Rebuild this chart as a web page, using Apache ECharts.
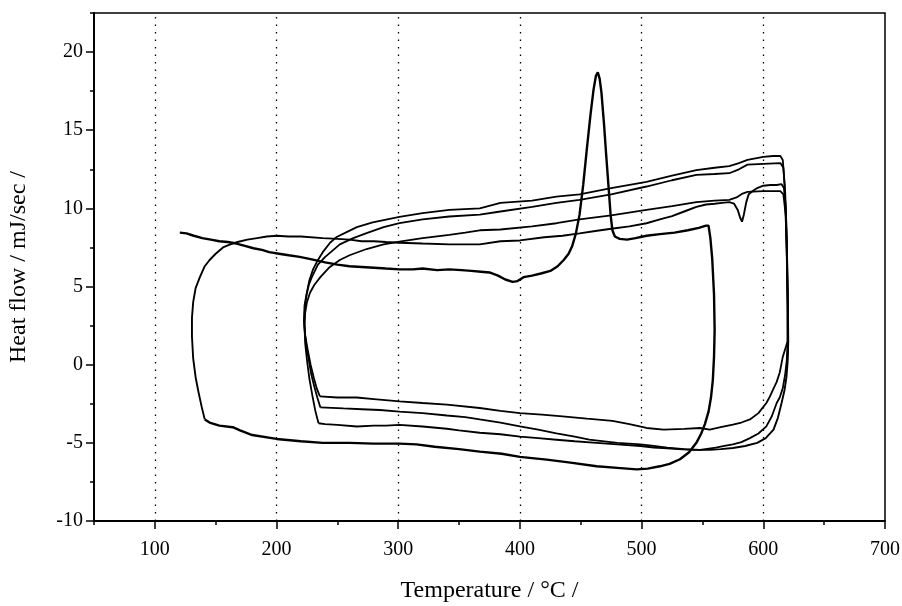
<!DOCTYPE html>
<html><head><meta charset="utf-8">
<script src="https://cdn.jsdelivr.net/npm/echarts@6/dist/echarts.min.js"></script>
<style>html,body{margin:0;padding:0;background:#fff}#c{width:902px;height:606px}</style>
</head><body><div id="c"></div>
<script>
const xMajorTicks = [100, 200, 300, 400, 500, 600, 700];
const xMinorTicks = [50, 150, 250, 350, 450, 550, 650];
const xGridLines = [100, 200, 300, 400, 500, 600];
const yMajorTicks = [-10, -5, 0, 5, 10, 15, 20];
const yMinorTicks = [-7.5, -2.5, 2.5, 7.5, 12.5, 17.5, 22.5];

// [temperature °C, heat flow mJ/s]
const firstHeating = [
[120.5,8.45],[126,8.4],[132,8.25],[139,8.1],[146,8.0],[153,7.9],[160,7.85],[167,7.75],[174,7.6],[181,7.45],[188,7.35],[194,7.2],[202,7.1],[210,7.0],[219,6.9],[228,6.75],[240,6.55],[250,6.4],[260,6.3],[270,6.25],[280,6.2],[290,6.15],[301,6.1],[312,6.1],[320,6.15],[332,6.05],[342,6.1],[352,6.05],[360,6.0],[368,5.95],[375,5.9],[382,5.7],[388,5.45],[394,5.3],[398,5.35],[403,5.6],[410,5.7],[418,5.85],[425,6.0],[431,6.3],[436,6.7],[440,7.1],[443,7.6],[446,8.4],[449,9.6],[452,11.5],[455,13.8],[458,16.0],[460.5,17.6],[462.5,18.5],[464,18.7],[465.5,18.3],[467,17.4],[469,15.5],[471,13.3],[473,11.2],[474.5,9.6],[476,8.6],[478,8.2],[482,8.05],[488,8.0],[495,8.1],[504,8.25],[515,8.35],[527,8.45],[538,8.6],[547,8.75],[553,8.9]
];
const firstCooling = [
[555,8.9],[556.5,8.1],[558,6.8],[559.5,4.5],[560,2.2],[559.5,0.5],[558.5,-1.0],[557,-2.1],[555,-3.0],[552,-3.8],[549,-4.4],[545,-5.0],[539,-5.6],[531.5,-6.05],[523,-6.35],[515,-6.5],[505,-6.65],[496,-6.7],[480,-6.6],[463,-6.5],[440,-6.25],[422,-6.07],[400,-5.9],[385,-5.7],[367,-5.56],[350,-5.4],[330,-5.25],[315,-5.1],[301,-5.05],[280,-5.05],[260,-5.0],[238,-5.0],[220,-4.9],[200,-4.75],[180,-4.5],[170,-4.2],[164,-4.0],[153,-3.9],[145,-3.7],[141,-3.5]
];
const secondHeating = [
[141,-3.5],[138.5,-2.7],[136,-1.8],[133.5,-0.8],[131.5,0.4],[130.5,1.8],[130.5,3.0],[131.5,4.0],[133.5,4.9],[137,5.6],[141,6.3],[145,6.7],[150,7.1],[156,7.5],[162,7.7],[168,7.85],[176,8.0],[184,8.1],[192,8.2],[200,8.25],[210,8.2],[220,8.2],[238,8.1],[250,8.05],[260,8.0],[270,7.9],[280,7.9],[290,7.85],[301,7.8],[320,7.75],[342,7.7],[355,7.7],[367,7.7],[384,7.9],[400,7.95],[420,8.15],[435,8.25],[449,8.4],[462,8.55],[475,8.7],[490,8.85],[504,9.05],[515,9.3],[525,9.5],[535,9.8],[545,10.1],[553,10.25],[560,10.3],[566,10.35],[572,10.4],[576,10.3],[579,9.9],[581,9.4],[582.5,9.15],[584,9.6],[586,10.4],[588,10.9],[591,11.1],[595,11.3],[600,11.45],[606,11.5],[611,11.5],[615,11.55],[617,11.3],[618.5,10],[619.5,7],[620.2,4],[620.5,1.5]
];
const secondCooling = [
[620.5,1.5],[620,0.2],[619,-0.8],[617.5,-1.6],[615,-2.45],[612,-3.4],[608.4,-4.15],[602,-4.7],[595,-5.0],[585,-5.2],[575,-5.33],[565,-5.4],[556,-5.45],[542,-5.45],[530,-5.4],[521,-5.35],[510,-5.3],[499,-5.2],[480,-5.1],[463,-5.0],[445,-4.9],[430,-4.8],[415,-4.7],[400,-4.6],[384,-4.45],[367,-4.35],[350,-4.2],[340,-4.1],[320,-3.95],[301,-3.85],[290,-3.9],[280,-3.9],[266,-3.95],[250,-3.85],[240,-3.8],[234.5,-3.75]
];
const thirdHeating = [
[234.5,-3.75],[232,-3.0],[229.5,-2.0],[227,-0.9],[225,0.3],[223.5,1.4],[223,2.5],[223.5,3.3],[225,4.0],[227.5,4.6],[231,5.1],[236,5.6],[243,6.2],[252,6.7],[260,7.0],[274,7.4],[288,7.7],[301,7.88],[320,8.1],[342,8.3],[355,8.45],[367,8.6],[384,8.65],[410,8.85],[430,9.05],[449,9.3],[475,9.55],[504,9.9],[525,10.15],[545,10.4],[560,10.5],[572,10.55],[578,10.7],[583,10.95],[587,11.05],[600,11.1],[614,11.1],[616.5,10.9],[618.5,9.5],[619.5,6.5],[620,3.5],[620,1.5]
];
const thirdCooling = [
[620,1.5],[619.3,0.3],[618,-0.6],[616,-1.5],[613.5,-2.1],[611,-2.45],[607,-3.3],[602.5,-3.95],[596,-4.4],[589,-4.7],[582,-4.95],[575,-5.1],[568,-5.2],[561,-5.3],[548,-5.45],[535,-5.4],[521,-5.3],[510,-5.2],[499,-5.1],[480,-5.0],[457,-4.8],[445,-4.6],[430,-4.4],[415,-4.15],[400,-3.95],[384,-3.7],[367,-3.5],[355,-3.35],[340,-3.25],[320,-3.1],[301,-3.0],[285,-2.9],[270,-2.85],[255,-2.8],[236,-2.73]
];
const fourthHeating = [
[236,-2.73],[233.5,-2.1],[231,-1.4],[228.5,-0.6],[226.5,0.3],[224.5,1.2],[223.3,2.0],[222.8,2.8],[223.5,3.8],[224.8,4.5],[226.5,5.1],[229,5.6],[234,6.4],[240,6.9],[246,7.3],[252,7.7],[263,8.1],[274,8.42],[288,8.8],[301,9.06],[320,9.3],[342,9.48],[367,9.6],[384,9.8],[410,10.1],[430,10.35],[449,10.55],[475,10.9],[504,11.4],[525,11.8],[545,12.15],[560,12.2],[572,12.25],[580,12.5],[587,12.8],[600,12.85],[614,12.9],[616.5,12.6],[618,11],[619.3,8],[620,4.5],[620,1.5]
];
const fourthCooling = [
[620,1.5],[618,1.0],[616,0.5],[613.5,-0.5],[611,-1.1],[608,-1.6],[605,-2.1],[602.5,-2.45],[596,-3.1],[589,-3.5],[582,-3.7],[575,-3.84],[565,-4.0],[556,-4.15],[548,-4.05],[535,-4.1],[518,-4.15],[504,-4.05],[490,-3.8],[476,-3.6],[455,-3.45],[435,-3.3],[418,-3.2],[400,-3.1],[384,-2.95],[367,-2.77],[340,-2.55],[320,-2.45],[301,-2.35],[280,-2.2],[266,-2.1],[250,-2.1],[235.6,-2.03]
];
const fifthHeating = [
[235.6,-2.03],[233,-1.5],[230.5,-0.8],[228,0.0],[225.5,1.0],[223.5,1.9],[222.5,2.8],[223,3.8],[224.6,4.5],[227,5.4],[230,6.1],[234,6.7],[238,7.2],[244,7.8],[249,8.15],[258,8.5],[266,8.8],[279,9.1],[301,9.45],[320,9.7],[342,9.9],[367,10.0],[384,10.35],[410,10.5],[430,10.75],[449,10.9],[475,11.3],[504,11.7],[525,12.1],[545,12.45],[560,12.6],[572,12.7],[580,12.9],[587,13.1],[600,13.3],[608,13.35],[614,13.35],[616,13.1],[617.5,11.5],[619,8],[620,4],[620.3,1.0],[619.5,0.2]
];

const FONT = 'Liberation Serif';
const chart = echarts.init(document.getElementById('c'), null, {renderer: 'canvas'});

function lineSeries(data, width, extra) {
  return Object.assign({
    type: 'line', data: data, showSymbol: false, symbol: 'none',
    lineStyle: {color: '#000', width: width}, itemStyle: {color: '#000'},
    smooth: false, animation: false, silent: true, z: 3
  }, extra || {});
}

const option = {
  animation: false,
  backgroundColor: '#fff',
  grid: {left: 94, right: 17, top: 13, bottom: 85, show: true, borderColor: '#000', borderWidth: 1.5, containLabel: false, outerBoundsMode: 'none'},
  xAxis: [
    {type: 'value', min: 50, max: 700, interval: 50, position: 'bottom',
     axisLine: {show: true, onZero: false, lineStyle: {color: '#000', width: 2}},
     axisTick: {show: true, inside: false, length: 8, customValues: xMajorTicks, lineStyle: {color: '#000', width: 1.5}},
     axisLabel: {customValues: xMajorTicks, color: '#000', fontFamily: FONT, fontSize: 20, margin: 19},
     splitLine: {show: false},
     name: 'Temperature / °C /', nameLocation: 'middle', nameGap: 58,
     nameTextStyle: {color: '#000', fontFamily: FONT, fontSize: 24}},
    {type: 'value', min: 50, max: 700, interval: 50, position: 'bottom', gridIndex: 0,
     axisLine: {show: false, onZero: false},
     axisTick: {show: true, inside: false, length: 4, customValues: xMinorTicks, lineStyle: {color: '#000', width: 1.5}},
     axisLabel: {show: false}, splitLine: {show: false}}
  ],
  yAxis: [
    {type: 'value', min: -10, max: 22.5, interval: 5, position: 'left',
     axisLine: {show: true, onZero: false, lineStyle: {color: '#000', width: 2}},
     axisTick: {show: true, inside: false, length: 8, customValues: yMajorTicks, lineStyle: {color: '#000', width: 1.5}},
     axisLabel: {customValues: yMajorTicks, color: '#000', fontFamily: FONT, fontSize: 20, margin: 11},
     splitLine: {show: false},
     name: 'Heat flow / mJ/sec /', nameLocation: 'middle', nameGap: 63, nameRotate: 90,
     nameTextStyle: {color: '#000', fontFamily: FONT, fontSize: 24}},
    {type: 'value', min: -10, max: 22.5, interval: 5, position: 'left', gridIndex: 0,
     axisLine: {show: false, onZero: false},
     axisTick: {show: true, inside: false, length: 4, customValues: yMinorTicks, lineStyle: {color: '#000', width: 1.5}},
     axisLabel: {show: false}, splitLine: {show: false}}
  ],
  series: [
    lineSeries(firstHeating.concat(firstCooling), 2.4, {
      markLine: {
        silent: true, symbol: ['none', 'none'], animation: false,
        label: {show: false},
        lineStyle: {color: '#000', width: 1.3, type: [1.5, 6]},
        data: xGridLines.map(v => ({xAxis: v}))
      }
    }),
    lineSeries(secondHeating.concat(secondCooling), 1.9),
    lineSeries(thirdHeating.concat(thirdCooling), 1.8),
    lineSeries(fourthHeating.concat(fourthCooling), 1.8),
    lineSeries(fifthHeating, 1.8)
  ]
};
chart.setOption(option);
</script>
</body></html>
